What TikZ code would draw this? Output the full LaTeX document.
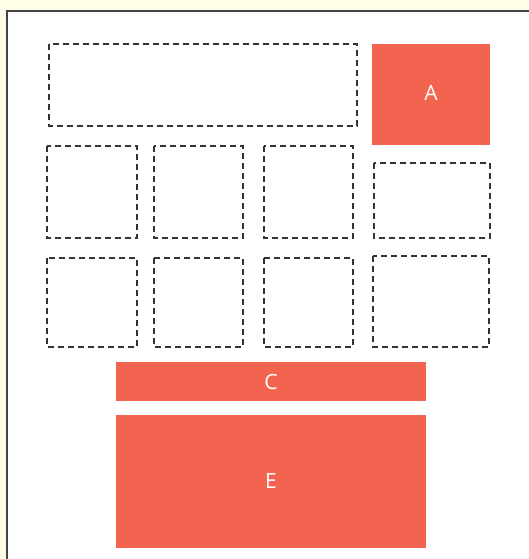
\documentclass[tikz,border=0pt]{standalone}
\usepackage{fontspec}
\setmainfont{Open Sans}
\definecolor{bgyellow}{HTML}{FFFDE8}
\definecolor{boxorange}{HTML}{F26450}
\definecolor{dashgray}{HTML}{333333}
\definecolor{framegray}{HTML}{444444}
\tikzset{
  dbox/.style={draw=dashgray, line width=1.4pt, dash pattern=on 6pt off 4pt},
  obox/.style={fill=boxorange, draw=none},
  olabel/.style={text=white, font=\fontsize{21}{24}\selectfont, inner sep=0pt},
}
\begin{document}
\begin{tikzpicture}[x=1pt,y=-1pt]
\useasboundingbox (0,0) rectangle (528,559);
\fill[bgyellow] (0,0) rectangle (528,559);
\filldraw[fill=white, draw=framegray, line width=2pt] (7,11.5) rectangle (540,570);
% dashed placeholders
\draw[dbox] (49,44) rectangle (357,126);
\draw[dbox] (47,146) rectangle (137,238);
\draw[dbox] (154,146) rectangle (243,238);
\draw[dbox] (264,146) rectangle (353,238);
\draw[dbox] (374,163) rectangle (490,238);
\draw[dbox] (47,258) rectangle (137,347);
\draw[dbox] (154,258) rectangle (243,347);
\draw[dbox] (264,258) rectangle (353,347);
\draw[dbox] (373,256) rectangle (489,347);
% orange blocks
\fill[obox] (372,44) rectangle (490,145);
\node[olabel] (A) at (431,93) {A};
\fill[obox] (116,362) rectangle (426,401);
\node[olabel] (C) at (271,382) {C};
\fill[obox] (116,415) rectangle (426,548);
\node[olabel] (E) at (271,481) {E};
\end{tikzpicture}
\end{document}
